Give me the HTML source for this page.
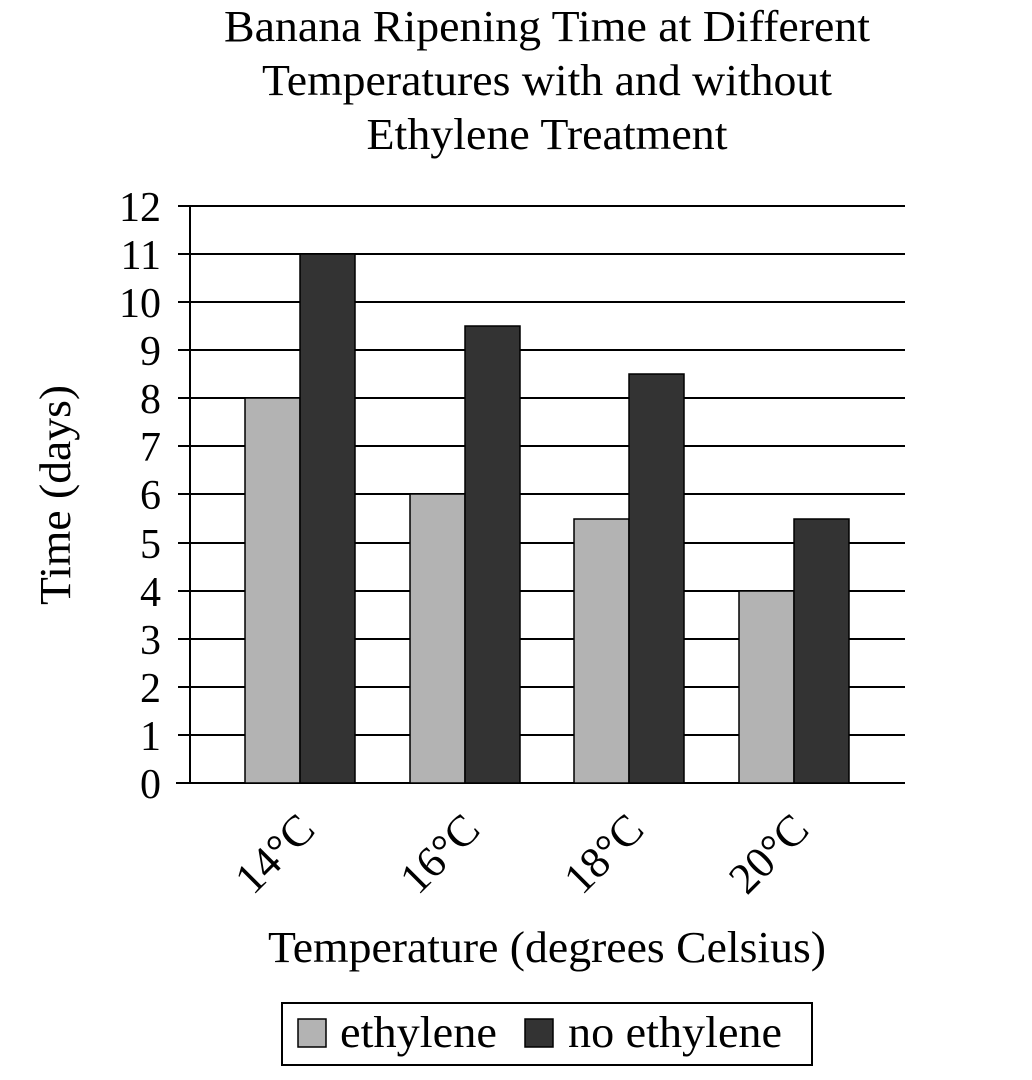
<!DOCTYPE html>
<html><head><style>body{margin:0;background:#fff}svg{display:block}text{font-family:"Liberation Serif",serif;fill:#000}</style></head>
<body>
<svg width="1032" height="1080" viewBox="0 0 1032 1080">
<g font-size="44" text-anchor="middle">
<text x="547" y="41" textLength="646" lengthAdjust="spacingAndGlyphs">Banana Ripening Time at Different</text>
<text x="547" y="95" textLength="570" lengthAdjust="spacingAndGlyphs">Temperatures with and without</text>
<text x="547" y="149" textLength="361" lengthAdjust="spacingAndGlyphs">Ethylene Treatment</text>
</g>
<g stroke="#000" stroke-width="2">
<line x1="178" y1="206" x2="905" y2="206"/>
<line x1="178" y1="254" x2="905" y2="254"/>
<line x1="178" y1="302" x2="905" y2="302"/>
<line x1="178" y1="350" x2="905" y2="350"/>
<line x1="178" y1="398" x2="905" y2="398"/>
<line x1="178" y1="446" x2="905" y2="446"/>
<line x1="178" y1="494" x2="905" y2="494"/>
<line x1="178" y1="543" x2="905" y2="543"/>
<line x1="178" y1="591" x2="905" y2="591"/>
<line x1="178" y1="639" x2="905" y2="639"/>
<line x1="178" y1="687" x2="905" y2="687"/>
<line x1="178" y1="735" x2="905" y2="735"/>
<line x1="176" y1="783" x2="905" y2="783"/>
<line x1="190" y1="206" x2="190" y2="783"/>
</g>
<g stroke="#000" stroke-width="1.5">
<rect x="245" y="398" width="55" height="385" fill="#b3b3b3"/>
<rect x="300" y="254" width="55" height="529" fill="#333"/>
<rect x="410" y="494" width="55" height="289" fill="#b3b3b3"/>
<rect x="465" y="326" width="55" height="457" fill="#333"/>
<rect x="574" y="519" width="55" height="264" fill="#b3b3b3"/>
<rect x="629" y="374" width="55" height="409" fill="#333"/>
<rect x="739" y="591" width="55" height="192" fill="#b3b3b3"/>
<rect x="794" y="519" width="55" height="264" fill="#333"/>
</g>
<g font-size="42" text-anchor="end">
<text x="161" y="221">12</text><text x="161" y="269">11</text><text x="161" y="317">10</text>
<text x="161" y="365">9</text><text x="161" y="413">8</text><text x="161" y="461">7</text>
<text x="161" y="509">6</text><text x="161" y="558">5</text><text x="161" y="606">4</text>
<text x="161" y="654">3</text><text x="161" y="702">2</text><text x="161" y="750">1</text>
<text x="161" y="798">0</text>
</g>
<text font-size="44" text-anchor="middle" transform="translate(70,495) rotate(-90)" textLength="220" lengthAdjust="spacingAndGlyphs">Time (days)</text>
<g font-size="44" text-anchor="middle">
<text transform="translate(285,864) rotate(-45)">14°C</text>
<text transform="translate(450,864) rotate(-45)">16°C</text>
<text transform="translate(614,864) rotate(-45)">18°C</text>
<text transform="translate(779,864) rotate(-45)">20°C</text>
</g>
<text x="547" y="962" font-size="44" text-anchor="middle" textLength="558" lengthAdjust="spacingAndGlyphs">Temperature (degrees Celsius)</text>
<rect x="282" y="1003" width="530" height="62" fill="#fff" stroke="#000" stroke-width="2"/>
<rect x="298" y="1019" width="28" height="28" fill="#b3b3b3" stroke="#000" stroke-width="1.5"/>
<text x="340" y="1047" font-size="44" textLength="157" lengthAdjust="spacingAndGlyphs">ethylene</text>
<rect x="525" y="1019" width="28" height="28" fill="#333" stroke="#000" stroke-width="1.5"/>
<text x="568" y="1047" font-size="44" textLength="214" lengthAdjust="spacingAndGlyphs">no ethylene</text>
</svg>
</body></html>
